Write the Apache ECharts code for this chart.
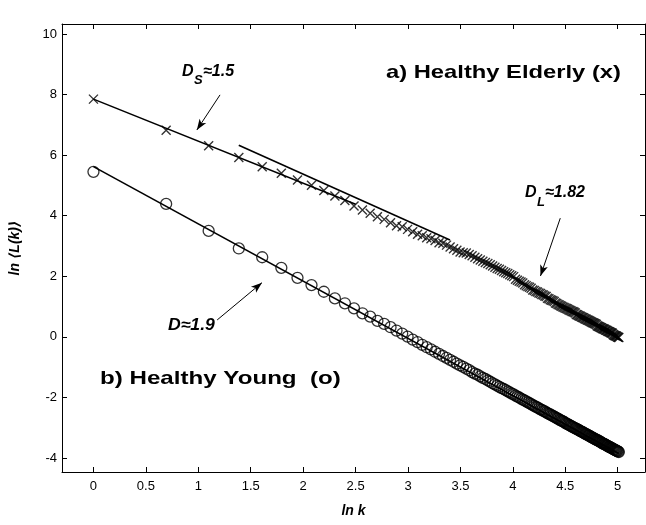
<!DOCTYPE html>
<html>
<head>
<meta charset="utf-8">
<script src="https://cdn.jsdelivr.net/npm/echarts@6/dist/echarts.min.js"></script>
<style>
  html, body { margin: 0; padding: 0; background: #fff; }
  #main { width: 646px; height: 525px; }
</style>
</head>
<body>
<div id="main"></div>
<script>
    // ln<L(k)> for k = 1..150
    var elderly = [
        7.85, 6.82, 6.31, 5.92, 5.62, 5.40, 5.18, 5.01, 4.83, 4.65,
        4.50, 4.32, 4.19, 4.08, 3.97,
        3.88, 3.77, 3.67, 3.64, 3.55, 3.47, 3.39, 3.34, 3.27, 3.24,
        3.18, 3.11, 3.09, 3.03, 2.97, 2.91, 2.86, 2.80, 2.78, 2.77,
        2.72, 2.68, 2.63, 2.58, 2.54, 2.50, 2.46, 2.42, 2.38, 2.34,
        2.30, 2.26, 2.23, 2.19, 2.15, 2.12, 2.09, 2.05, 2.02, 1.99,
        1.90, 1.87, 1.84, 1.81, 1.78, 1.72, 1.69, 1.66, 1.64, 1.61,
        1.55, 1.53, 1.50, 1.48, 1.45, 1.43, 1.40, 1.38, 1.35, 1.33,
        1.28, 1.26, 1.23, 1.21, 1.19, 1.17, 1.12, 1.10, 1.07, 1.05,
        1.03, 1.01, 0.99, 0.97, 0.95, 0.94, 0.92, 0.90, 0.88, 0.86,
        0.84, 0.83, 0.81, 0.79, 0.74, 0.73, 0.71, 0.69, 0.68, 0.66,
        0.64, 0.63, 0.61, 0.59, 0.58, 0.56, 0.55, 0.53, 0.52, 0.50,
        0.48, 0.47, 0.46, 0.44, 0.43, 0.41, 0.37, 0.35, 0.34, 0.33,
        0.31, 0.30, 0.28, 0.27, 0.26, 0.25, 0.23, 0.22, 0.21, 0.19,
        0.18, 0.17, 0.15, 0.14, 0.13, 0.12, 0.08, 0.06, 0.05, 0.04,
        0.03, 0.02, 0.00, -0.01, -0.02
    ];
    var young = [
        5.45, 4.39, 3.50, 2.92, 2.63, 2.28, 1.95, 1.71, 1.49, 1.27,
        1.11, 0.94, 0.78, 0.67, 0.53,
        0.43, 0.32, 0.21, 0.11, 0.01, -0.09, -0.17, -0.26, -0.34, -0.41,
        -0.49, -0.56, -0.63, -0.69, -0.76, -0.82, -0.88, -0.94, -0.99, -1.05,
        -1.10, -1.16, -1.21, -1.25, -1.30, -1.35, -1.39, -1.44, -1.48, -1.53,
        -1.57, -1.61, -1.65, -1.69, -1.72, -1.76, -1.80, -1.83, -1.87, -1.90,
        -1.94, -1.97, -2.00, -2.04, -2.07, -2.10, -2.13, -2.16, -2.19, -2.22,
        -2.25, -2.28, -2.31, -2.33, -2.36, -2.39, -2.41, -2.44, -2.46, -2.49,
        -2.52, -2.54, -2.56, -2.59, -2.61, -2.63, -2.66, -2.68, -2.70, -2.73,
        -2.75, -2.77, -2.79, -2.81, -2.84, -2.86, -2.88, -2.90, -2.92, -2.94,
        -2.96, -2.98, -3.00, -3.02, -3.03, -3.05, -3.07, -3.09, -3.11, -3.13,
        -3.14, -3.16, -3.18, -3.20, -3.21, -3.23, -3.25, -3.26, -3.28, -3.30,
        -3.32, -3.33, -3.35, -3.36, -3.38, -3.39, -3.41, -3.42, -3.44, -3.45,
        -3.47, -3.49, -3.50, -3.52, -3.53, -3.54, -3.56, -3.57, -3.59, -3.60,
        -3.62, -3.63, -3.64, -3.66, -3.67, -3.68, -3.70, -3.71, -3.72, -3.74,
        -3.75, -3.76, -3.77, -3.79, -3.80
    ];

    // fitted lines (end points in ln k, ln<L>)
    var fitDs = [[0, 7.85], [2.5, 4.38]];
    var fitDL = [[1.386, 6.33], [3.40, 3.20]];
    var fitYoung = [[0, 5.62], [5.01, -3.85]];

    // annotation arrows: [from, to]
    var arrowS = [[1.207, 7.99], [0.986, 6.83]];
    var arrowL = [[4.452, 3.92], [4.263, 2.01]];
    var arrowD = [[1.18, 0.56], [1.607, 1.79]];

    var xTicks = [0, 0.5, 1, 1.5, 2, 2.5, 3, 3.5, 4, 4.5, 5];
    var yTicks = [-4, -2, 0, 2, 4, 6, 8, 10];

    var FONT = '"Liberation Sans", Arial, Helvetica, "DejaVu Sans", sans-serif';

    function pairs(ys) {
        var out = [];
        for (var i = 0; i < ys.length; i++) {
            out.push([Math.log(i + 1), ys[i]]);
        }
        return out;
    }

    function arrowData(a) {
        return [{ coord: a[0] }, { coord: a[1] }];
    }

    function baseAxis(pos, ticks, showLabel) {
        var horiz = pos === 'bottom' || pos === 'top';
        return {
            type: 'value',
            position: pos,
            min: horiz ? -0.3 : -4.46,
            max: horiz ? 5.26 : 10.33,
            axisLine: { show: true, onZero: false, lineStyle: { color: '#000', width: 1 } },
            axisTick: { show: true, inside: true, length: 5, customValues: ticks, lineStyle: { color: '#000' } },
            axisLabel: {
                show: showLabel, customValues: ticks, color: '#000',
                fontFamily: FONT, fontSize: 13, margin: pos === 'bottom' ? 8 : 5
            },
            splitLine: { show: false }
        };
    }

    var xAxisMain = baseAxis('bottom', xTicks, true);
    xAxisMain.name = 'ln k';
    xAxisMain.nameLocation = 'middle';
    xAxisMain.nameGap = 32;
    xAxisMain.nameTextStyle = { fontFamily: FONT, fontSize: 14, fontWeight: 'bold', fontStyle: 'italic', color: '#000' };

    var yAxisMain = baseAxis('left', yTicks, true);
    yAxisMain.name = 'ln \u27E8L(k)\u27E9';
    yAxisMain.nameLocation = 'middle';
    yAxisMain.nameRotate = 90;
    yAxisMain.nameGap = 40;
    yAxisMain.nameTextStyle = { fontFamily: FONT, fontSize: 14, fontWeight: 'bold', fontStyle: 'italic', color: '#000' };

    var myChart = echarts.init(document.getElementById('main'));

    var option = {
        animation: false,
        backgroundColor: '#fff',
        grid: { left: 57, right: 1, top: 24, bottom: 53, containLabel: false },
        xAxis: [xAxisMain, baseAxis('top', xTicks, false)],
        yAxis: [yAxisMain, baseAxis('right', yTicks, false)],
        series: [
            {
                name: 'Healthy Elderly',
                type: 'scatter',
                data: pairs(elderly),
                symbol: 'path://M0,0L10,10M10,0L0,10',
                symbolSize: 9,
                itemStyle: { color: 'transparent', borderColor: '#000', borderWidth: 1.4 },
                silent: true
            },
            {
                name: 'Healthy Young',
                type: 'scatter',
                data: pairs(young),
                symbol: 'circle',
                symbolSize: 11,
                itemStyle: { color: 'transparent', borderColor: '#000', borderWidth: 1.3 },
                silent: true
            },
            {
                type: 'line', data: fitDs, symbol: 'none', silent: true,
                lineStyle: { color: '#000', width: 1.6 }
            },
            {
                type: 'line', data: fitDL, symbol: 'none', silent: true,
                lineStyle: { color: '#000', width: 1.6 }
            },
            {
                type: 'line', data: fitYoung, symbol: 'none', silent: true,
                lineStyle: { color: '#000', width: 1.6 },
                markLine: {
                    silent: true,
                    symbol: ['none', 'arrow'],
                    symbolSize: [6, 11],
                    label: { show: false },
                    lineStyle: { color: '#000', width: 1, type: 'solid' },
                    data: [arrowData(arrowS), arrowData(arrowL), arrowData(arrowD)]
                }
            }
        ],
        graphic: [
            // D_S ~ 1.5
            { type: 'text', x: 182, y: 72, style: { text: 'D', font: 'italic bold 16px ' + FONT, fill: '#000', verticalAlign: 'middle' } },
            { type: 'text', x: 194, y: 80, style: { text: 'S', font: 'italic bold 13px ' + FONT, fill: '#000', verticalAlign: 'middle' } },
            { type: 'text', x: 203, y: 72, style: { text: '\u22481.5', font: 'italic bold 16px ' + FONT, fill: '#000', verticalAlign: 'middle' } },
            // D_L ~ 1.82
            { type: 'text', x: 525, y: 193, style: { text: 'D', font: 'italic bold 16px ' + FONT, fill: '#000', verticalAlign: 'middle' } },
            { type: 'text', x: 537, y: 202, style: { text: 'L', font: 'italic bold 13px ' + FONT, fill: '#000', verticalAlign: 'middle' } },
            { type: 'text', x: 545, y: 193, style: { text: '\u22481.82', font: 'italic bold 16px ' + FONT, fill: '#000', verticalAlign: 'middle' } },
            // D ~ 1.9
            { type: 'text', x: 168, y: 326, scaleX: 1.1, style: { text: 'D\u22481.9', font: 'italic bold 16px ' + FONT, fill: '#000', verticalAlign: 'middle' } },
            // group labels
            { type: 'text', x: 386, y: 73, scaleX: 1.25, style: { text: 'a) Healthy Elderly (x)', font: 'bold 19px ' + FONT, fill: '#000', verticalAlign: 'middle' } },
            { type: 'text', x: 100, y: 379, scaleX: 1.27, style: { text: 'b) Healthy Young  (o)', font: 'bold 19px ' + FONT, fill: '#000', verticalAlign: 'middle' } }
        ]
    };
    myChart.setOption(option);
</script>
</body>
</html>
